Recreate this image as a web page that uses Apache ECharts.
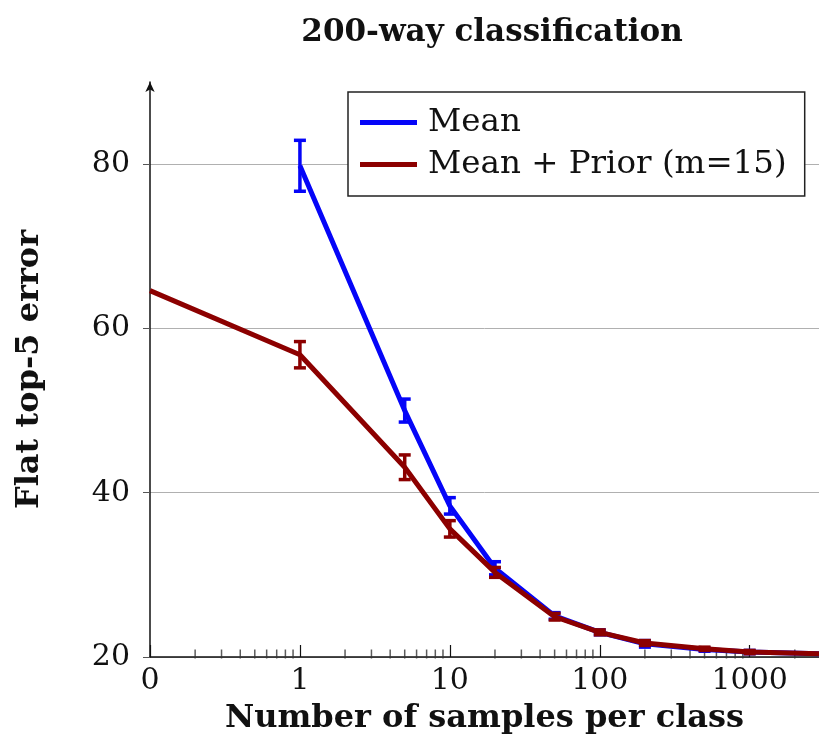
<!DOCTYPE html>
<html>
<head>
<meta charset="utf-8">
<script src="https://cdn.jsdelivr.net/npm/echarts@6/dist/echarts.min.js"></script>
<style>
  html, body { margin: 0; padding: 0; background: #fff; }
  #main { width: 819px; height: 750px; }
</style>
</head>
<body>
<div id="main"></div>
<script>
// samples per class (0 is drawn at 0.1 on the log axis)
var samples = [0.1, 1, 5, 10, 20, 50, 100, 200, 500, 1000, 3000];
var meanVals = [null, 79.8, 50.0, 38.4, 30.8, 25.0, 23.0, 21.6, 20.9, 20.6, 20.4];
var meanErr = [0, 3.1, 1.4, 1.0, 0.8, 0.4, 0.3, 0.4, 0.2, 0.2, 0];
var priorVals = [64.6, 56.8, 43.1, 35.6, 30.3, 24.9, 23.0, 21.7, 21.0, 20.6, 20.4];
var priorErr = [0, 1.6, 1.5, 1.0, 0.6, 0.4, 0.3, 0.3, 0.2, 0.2, 0];
var minorTicks = [0.2, 0.3, 0.4, 0.5, 0.6, 0.7, 0.8, 0.9,
  2, 3, 4, 5, 6, 7, 8, 9, 20, 30, 40, 50, 60, 70, 80, 90,
  200, 300, 400, 500, 600, 700, 800, 900, 2000];
var yTicks = [20, 40, 60, 80];

var FONT = '"DejaVu Serif", "Liberation Serif", serif';
var BLUE = '#0505f8';
var RED = '#8c0000';

function pairs(vals) {
  return samples.map(function (x, i) { return [x, vals[i]]; });
}
function errData(vals, errs) {
  var out = [];
  samples.forEach(function (x, i) {
    if (vals[i] != null && errs[i] > 0) out.push([x, vals[i] - errs[i], vals[i] + errs[i]]);
  });
  return out;
}
function errSeries(vals, errs, color) {
  return {
    type: 'custom',
    data: errData(vals, errs),
    encode: { x: 0, y: [1, 2] },
    z: 5,
    renderItem: function (params, api) {
      var lo = api.coord([api.value(0), api.value(1)]);
      var hi = api.coord([api.value(0), api.value(2)]);
      var w = 6;
      var st = { stroke: color, lineWidth: 3.5 };
      return {
        type: 'group',
        children: [
          { type: 'line', shape: { x1: lo[0], y1: lo[1], x2: hi[0], y2: hi[1] }, style: st },
          { type: 'line', shape: { x1: lo[0] - w, y1: lo[1], x2: lo[0] + w, y2: lo[1] }, style: st },
          { type: 'line', shape: { x1: hi[0] - w, y1: hi[1], x2: hi[0] + w, y2: hi[1] }, style: st }
        ]
      };
    }
  };
}

var chart = echarts.init(document.getElementById('main'));
var option = {
  backgroundColor: '#fff',
  animation: false,
  title: {
    text: '200-way classification',
    left: 487,
    textAlign: 'center',
    top: 12,
    textStyle: { fontFamily: FONT, fontSize: 31, fontWeight: 'bold', color: '#111' }
  },
  legend: {
    orient: 'vertical',
    left: 348,
    top: 92,
    padding: [14, 18, 15, 12],
    itemGap: 9,
    itemWidth: 57,
    itemHeight: 5,
    icon: 'rect',
    backgroundColor: '#fff',
    borderColor: '#222',
    borderWidth: 1.5,
    textStyle: { fontFamily: FONT, fontSize: 32.5, color: '#111', padding: [0, 0, 0, 6] },
    data: ['Mean', 'Mean + Prior (m=15)']
  },
  grid: { left: 150, right: 0, top: 82, bottom: 93, outerBoundsMode: 'none' },
  xAxis: {
    type: 'log',
    logBase: 10,
    min: 0.1,
    max: 2900,
    name: 'Number of samples per class',
    nameLocation: 'middle',
    nameGap: 46,
    nameTextStyle: { fontFamily: FONT, fontSize: 32, fontWeight: 'bold', color: '#111' },
    axisLine: { lineStyle: { color: '#111', width: 1.5 } },
    axisTick: { inside: true, length: 12, lineStyle: { color: '#111', width: 1.2 } },
    splitLine: { show: false },
    axisLabel: {
      fontFamily: FONT, fontSize: 30, color: '#111', margin: 9,
      formatter: function (v) { return v < 0.5 ? '0' : String(Math.round(v)); }
    }
  },
  yAxis: {
    type: 'value',
    min: 20,
    max: 90,
    interval: 20,
    name: 'Flat top-5 error',
    nameLocation: 'middle',
    nameGap: 104,
    nameTextStyle: { fontFamily: FONT, fontSize: 32, fontWeight: 'bold', color: '#111', padding: [0, 0, 0, 0] },
    axisLine: { show: true, symbol: ['none', 'arrow'], symbolSize: [7, 10], lineStyle: { color: '#111', width: 1.5 } },
    axisTick: { show: true, length: 7, lineStyle: { color: '#555' } },
    splitLine: { showMaxLine: false, lineStyle: { color: '#b0b0b0', width: 1 } },
    axisLabel: {
      fontFamily: FONT, fontSize: 30, color: '#111', margin: 20,
      showMaxLabel: false,
      formatter: function (v) { return yTicks.indexOf(v) >= 0 ? String(v) : ''; }
    }
  },
  series: [
    {
      name: 'Mean',
      type: 'line',
      data: pairs(meanVals),
      color: BLUE,
      showSymbol: false,
      symbol: 'none',
      lineStyle: { width: 5, color: BLUE },
      z: 3
    },
    errSeries(meanVals, meanErr, BLUE),
    {
      name: 'Mean + Prior (m=15)',
      type: 'line',
      data: pairs(priorVals),
      color: RED,
      showSymbol: false,
      symbol: 'none',
      lineStyle: { width: 5, color: RED },
      z: 6
    },
    errSeries(priorVals, priorErr, RED),
    {
      type: 'scatter',
      data: minorTicks.map(function (v) { return [v, 20]; }),
      symbol: 'rect',
      symbolSize: [1.5, 9],
      symbolOffset: [0, -3],
      itemStyle: { color: '#333' },
      silent: true,
      z: 1
    }
  ]
};
chart.setOption(option);
</script>
</body>
</html>
